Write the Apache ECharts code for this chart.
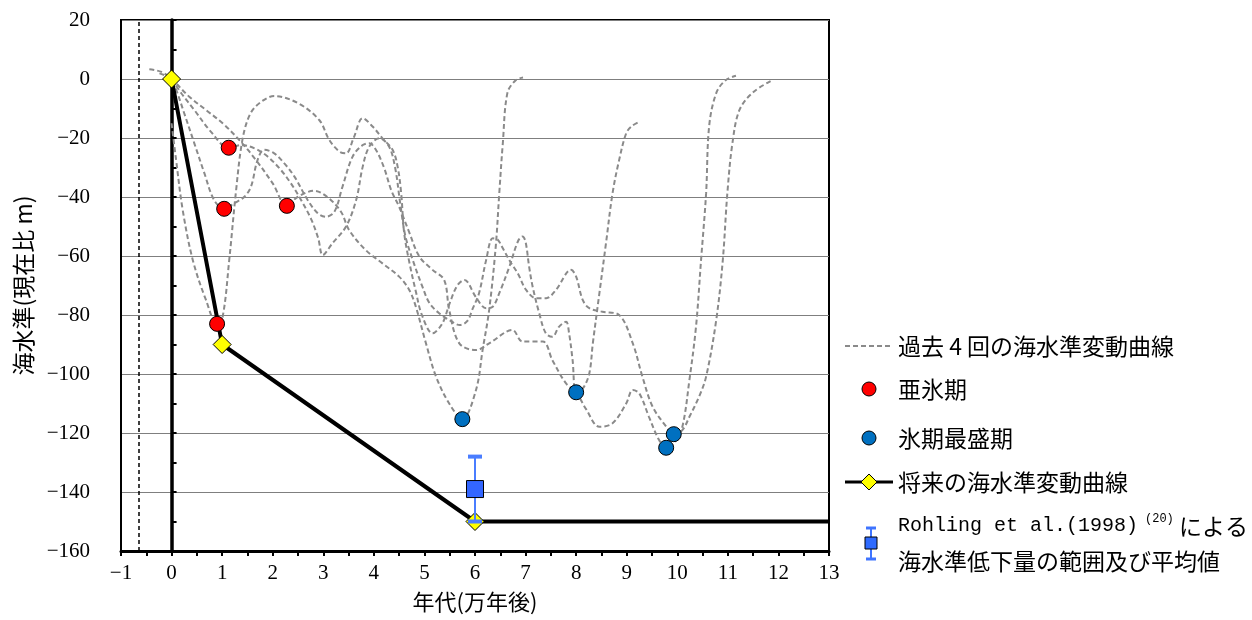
<!DOCTYPE html>
<html><head><meta charset="utf-8">
<script src="https://cdn.jsdelivr.net/npm/echarts@6/dist/echarts.min.js"></script>
<style>html,body{margin:0;padding:0;background:#fff}#c{width:1252px;height:620px}</style>
</head><body><div id="c"></div>
<script>
// ---- data ----
const pastCycleA = [[-0.44,3.3],[-0.2,2.4],[0,0],[0.35,-6],[0.68,-10.5],[1.01,-15],[1.34,-20.7],[1.67,-27.5],[2.0,-35.4],[2.28,-43],[2.49,-40],[2.82,-37.9],[3.08,-40],[3.35,-45],[3.51,-51.2],[3.84,-58],[4.17,-62.5],[4.5,-67],[4.7,-71.5],[4.83,-77.2],[5.03,-89.6],[5.23,-100.9],[5.49,-110],[5.75,-115.3],[6.02,-105.4],[6.15,-91.9],[6.28,-78.3],[6.41,-56.8],[6.48,-38.7],[6.55,-21.8],[6.64,-4.8],[6.8,-0.5],[6.95,0.5]];
const pastCycleB = [[-0.24,1.9],[0,0],[0.1,-4],[0.25,-11.6],[0.45,-21.8],[0.65,-32],[0.84,-41],[1.04,-44],[1.24,-42.1],[1.44,-39.9],[1.57,-36.5],[1.7,-27.5],[1.83,-24],[2.03,-25.2],[2.23,-28.6],[2.43,-33.1],[2.69,-41],[2.89,-45.5],[3.05,-46.7],[3.22,-45],[3.38,-36.5],[3.58,-26.3],[3.78,-22.4],[3.91,-21.8],[4.04,-24],[4.2,-30],[4.35,-38],[4.5,-43.3],[4.7,-52],[4.9,-60.2],[5.16,-64.7],[5.39,-68.1],[5.49,-78.3],[5.69,-89.6],[6.02,-91.9],[6.28,-89.6],[6.74,-85.1],[6.94,-89],[7.34,-89],[7.53,-95.3],[7.8,-103.2],[8.0,-106.2],[8.2,-112],[8.46,-117.9],[8.72,-116.7],[8.99,-110],[9.12,-105.4],[9.25,-106.6],[9.44,-114.5],[9.64,-122.4],[9.78,-125],[9.95,-123],[10.1,-117.9],[10.24,-102],[10.37,-84],[10.47,-61.4],[10.57,-38.7],[10.63,-16],[10.77,-4.8],[10.95,-0.5],[11.16,1.1]];
const pastCycleC = [[0,0],[0.2,-5],[0.45,-10.5],[0.78,-17.9],[1.13,-23.3],[1.37,-22.4],[1.64,-23.5],[1.9,-26.3],[2.16,-30.8],[2.36,-35.4],[2.56,-41],[2.76,-47.5],[2.9,-54],[2.99,-59.7],[3.18,-55.7],[3.45,-50],[3.65,-41],[3.78,-29.7],[3.91,-22.9],[4.11,-20.1],[4.3,-22.9],[4.42,-30],[4.52,-42],[4.62,-53],[4.77,-61.4],[4.96,-70.4],[5.1,-76],[5.29,-79.4],[5.49,-81.7],[5.7,-83.4],[5.85,-82],[5.95,-78],[6.08,-72.6],[6.22,-61.4],[6.35,-54],[6.45,-54.5],[6.55,-57.4],[6.7,-62],[6.85,-66],[7.01,-71.5],[7.21,-74.3],[7.41,-74.3],[7.6,-71.5],[7.9,-64.7],[8.0,-67],[8.13,-74.9],[8.26,-77.7],[8.52,-78.9],[8.85,-80],[9.12,-89.6],[9.31,-100.9],[9.51,-111],[9.78,-117.8],[9.93,-120.4],[10.1,-119],[10.24,-114.5],[10.43,-107.7],[10.57,-100.9],[10.77,-81.7],[10.9,-61.4],[10.99,-38.7],[11.09,-21.8],[11.23,-10.5],[11.5,-4.5],[11.89,-0.3]];
const pastCycleD = [[0,-15],[0.09,-27.5],[0.22,-44.4],[0.42,-61.4],[0.68,-74.9],[0.9,-83],[1.01,-80.6],[1.14,-61.4],[1.27,-38.7],[1.4,-20.7],[1.55,-12],[1.75,-8],[2.03,-5.8],[2.5,-8.2],[2.92,-13.9],[3.12,-20.7],[3.32,-24.6],[3.45,-25.2],[3.6,-20],[3.78,-13.3],[3.98,-16.2],[4.17,-20.1],[4.37,-24],[4.47,-29.7],[4.54,-38.7],[4.6,-52.3],[4.7,-62],[4.83,-72],[4.95,-80],[5.16,-86.2],[5.35,-83],[5.5,-76],[5.65,-70],[5.79,-68.1],[6.02,-74],[6.22,-77.7],[6.35,-77.2],[6.48,-72.6],[6.68,-63.6],[6.85,-55],[6.94,-53.4],[7.0,-55.2],[7.07,-63.6],[7.14,-70.4],[7.27,-79.4],[7.4,-86.2],[7.53,-87.4],[7.66,-84],[7.8,-82.3],[7.86,-86.2],[7.93,-95.3],[8.0,-106.2],[8.13,-105],[8.26,-99.8],[8.33,-89.6],[8.46,-72.6],[8.59,-55.7],[8.72,-38.7],[8.85,-27.5],[8.99,-18.4],[9.1,-16],[9.25,-14.5]];
const interstadials = [[1.13,-23.3],[1.04,-44],[2.28,-43],[0.9,-83]];
const glacialMaxima = [[5.75,-115.3],[8.0,-106.2],[9.93,-120.4],[9.78,-125]];
const futureCurve = [[0,0],[1,-90],[6,-150],[13,-150]];
const futureMarked = [true,true,true,false];
const rohlingX = [6];
const rohlingMean = [-139];
const rohlingLow = [-150];
const rohlingHigh = [-128];
const refLineX = [-0.65];
const yTicks = [20,0,-20,-40,-60,-80,-100,-120,-140,-160];

const NAME_PAST = '過去 4 回の海水準変動曲線';
const NAME_SUB = '亜氷期';
const NAME_MAX = '氷期最盛期';
const NAME_FUT = '将来の海水準変動曲線';
const CJK = 'Noto Sans CJK JP';
const NUM = 'Liberation Serif';

const chart = echarts.init(document.getElementById('c'), null, {renderer:'canvas'});
const grayDash = {color:'#8a8a8a', width:2, type:[5,3]};
function past(data, withMark){
  const s = {type:'line', name:NAME_PAST, data, smooth:0.35, showSymbol:false, symbol:'none',
    lineStyle:grayDash, z:2, silent:true};
  if (withMark) s.markLine = {silent:true, symbol:'none', label:{show:false},
    lineStyle:{color:'#000', width:1.5, type:[4,3]}, data: refLineX.map(v=>({xAxis:v}))};
  return s;
}
const lbl = (v)=> v<0 ? '−'+Math.abs(v) : String(v);
const legendFont = '23px ' + CJK;
const lgX = 898;
const graphic = [
  {type:'line', shape:{x1:845,y1:346,x2:893,y2:346}, style:{stroke:'#8a8a8a', lineWidth:2, lineDash:[5,3]}},
  {type:'text', style:{x:lgX,y:346,text:NAME_PAST,font:legendFont,fill:'#000',textVerticalAlign:'middle',verticalAlign:'middle'}},
  {type:'circle', shape:{cx:869,cy:389,r:7}, style:{fill:'#ff0000',stroke:'#000',lineWidth:1}},
  {type:'text', style:{x:lgX,y:389,text:NAME_SUB,font:legendFont,fill:'#000',textVerticalAlign:'middle',verticalAlign:'middle'}},
  {type:'circle', shape:{cx:869,cy:438,r:7}, style:{fill:'#0070c0',stroke:'#000',lineWidth:1}},
  {type:'text', style:{x:lgX,y:438,text:NAME_MAX,font:legendFont,fill:'#000',textVerticalAlign:'middle',verticalAlign:'middle'}},
  {type:'line', shape:{x1:845,y1:482,x2:893,y2:482}, style:{stroke:'#000', lineWidth:3}},
  {type:'polygon', shape:{points:[[869,474],[877,482],[869,490],[861,482]]}, style:{fill:'#ffff00',stroke:'#000',lineWidth:1}},
  {type:'text', style:{x:lgX,y:482,text:NAME_FUT,font:legendFont,fill:'#000',textVerticalAlign:'middle',verticalAlign:'middle'}},
  {type:'line', shape:{x1:871,y1:528,x2:871,y2:559}, style:{stroke:'#3f74ff', lineWidth:2}},
  {type:'line', shape:{x1:866,y1:528,x2:876,y2:528}, style:{stroke:'#3f74ff', lineWidth:3}},
  {type:'line', shape:{x1:866,y1:559,x2:876,y2:559}, style:{stroke:'#3f74ff', lineWidth:3}},
  {type:'rect', shape:{x:865,y:537,width:12,height:12}, style:{fill:'#2f6bff',stroke:'#000',lineWidth:1}},
  {type:'text', style:{x:lgX,y:526,text:'Rohling et al.(1998)',font:'20px Liberation Mono',fill:'#000',textVerticalAlign:'middle',verticalAlign:'middle'}},
  {type:'text', style:{x:1145,y:519,text:'(20)',font:'12px Liberation Mono',fill:'#000',textVerticalAlign:'middle',verticalAlign:'middle'}},
  {type:'text', style:{x:1179,y:526,text:'による',font:legendFont,fill:'#000',textVerticalAlign:'middle',verticalAlign:'middle'}},
  {type:'text', style:{x:lgX,y:561,text:'海水準低下量の範囲及び平均値',font:legendFont,fill:'#000',textVerticalAlign:'middle',verticalAlign:'middle'}}
];

const option = {
  animation:false,
  backgroundColor:'#fff',
  grid:{left:121, right:423, top:20, bottom:69, show:true, borderColor:'#000', borderWidth:2, containLabel:false},
  xAxis:{type:'value', min:-1, max:13, interval:1,
    name:'年代(万年後)', nameLocation:'middle', nameGap:40,
    nameTextStyle:{fontFamily:CJK, fontSize:22, color:'#000'},
    axisLine:{onZero:false, lineStyle:{color:'#000', width:3}},
    axisTick:{show:true, length:5, lineStyle:{color:'#000', width:2}},
    minorTick:{show:true, splitNumber:2, length:5, lineStyle:{color:'#000', width:2}},
    splitLine:{show:false},
    axisLabel:{fontFamily:NUM, fontSize:21, color:'#000', margin:12, formatter:lbl}},
  yAxis:[
    {type:'value', min:-160, max:20, interval:20, position:'left',
     name:'海水準(現在比 m)', nameLocation:'middle', nameGap:86,
     nameTextStyle:{fontFamily:CJK, fontSize:23, color:'#000'},
     axisLine:{show:true, onZero:false, lineStyle:{color:'#000', width:2}},
     axisTick:{show:false},
     splitLine:{show:true, lineStyle:{color:'#7f7f7f', width:1}},
     axisLabel:{fontFamily:NUM, fontSize:21, color:'#000', margin:31,
       formatter:(v)=> yTicks.includes(v) ? lbl(v) : ''}},
    {type:'value', min:-160, max:20, interval:20, position:'left',
     axisLine:{show:true, onZero:true, lineStyle:{color:'#000', width:3.5}},
     axisTick:{show:true, inside:true, length:5, lineStyle:{color:'#000', width:2}},
     minorTick:{show:true, splitNumber:2, length:5, lineStyle:{color:'#000', width:2}},
     axisLabel:{show:false}, splitLine:{show:false}}
  ],
  graphic: graphic,
  series:[
    past(pastCycleA, true), past(pastCycleB), past(pastCycleC), past(pastCycleD),
    {type:'line', name:NAME_FUT, z:4,
     data: futureCurve.map((p,i)=> futureMarked[i] ? {value:p} : {value:p, symbol:'none'}),
     symbol:'diamond', symbolSize:[18,18], showAllSymbol:true,
     lineStyle:{color:'#000', width:4}, itemStyle:{color:'#ffff00', borderColor:'#000', borderWidth:1, opacity:1}},
    {type:'custom', name:'Rohling', z:5, silent:true,
     data: rohlingX.map((x,i)=>[x, rohlingMean[i], rohlingLow[i], rohlingHigh[i]]),
     encode:{x:0, y:1},
     renderItem:(params, api)=>{
       const x = api.value(0);
       const t = api.coord([x, api.value(3)]);
       const b = api.coord([x, api.value(2)]);
       const cw = 7;
       const st = {stroke:'#4a7dff', lineWidth:2};
       const cap = {stroke:'#4a7dff', lineWidth:4};
       return {type:'group', children:[
         {type:'line', shape:{x1:t[0],y1:t[1],x2:b[0],y2:b[1]}, style:st},
         {type:'line', shape:{x1:t[0]-cw,y1:t[1],x2:t[0]+cw,y2:t[1]}, style:cap},
         {type:'line', shape:{x1:b[0]-cw,y1:b[1],x2:b[0]+cw,y2:b[1]}, style:cap}
       ]};
     }},
    {type:'scatter', name:'Rohling平均', z:6, symbol:'rect', symbolSize:17,
     data: rohlingX.map((x,i)=>[x, rohlingMean[i]]),
     itemStyle:{color:'#3366ff', borderColor:'#000', borderWidth:1, opacity:1}},
    {type:'scatter', name:NAME_SUB, z:6, symbol:'circle', symbolSize:15, data:interstadials,
     itemStyle:{color:'#ff0000', borderColor:'#000', borderWidth:1, opacity:1}},
    {type:'scatter', name:NAME_MAX, z:6, symbol:'circle', symbolSize:15, data:glacialMaxima,
     itemStyle:{color:'#0070c0', borderColor:'#000', borderWidth:1, opacity:1}}
  ]
};
chart.setOption(option);
</script></body></html>
